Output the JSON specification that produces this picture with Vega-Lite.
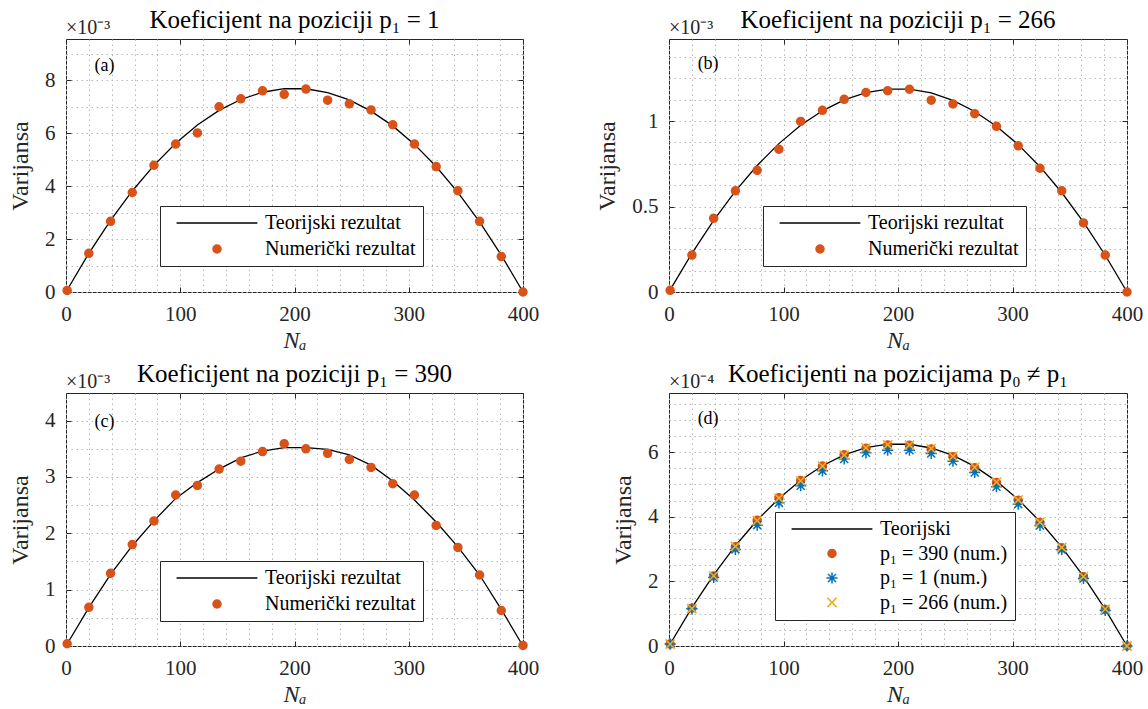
{
  "$schema": "https://vega.github.io/schema/vega-lite/v6.json",
  "padding": {"left": 8, "top": 7, "right": 0, "bottom": 0},
  "background": "white",
  "bounds": "flush",
  "columns": 2,
  "spacing": {"row": 101, "column": 146},
  "resolve": {
    "scale": {"stroke": "independent", "fill": "independent", "shape": "independent"},
    "legend": {"stroke": "independent", "fill": "independent", "shape": "independent"}
  },
  "datasets": {
    "a_t": [
      {"N":1,"v":0.077,"s":"Teorijski rezultat"},{"N":20,"v":1.463,"s":"Teorijski rezultat"},{"N":39,"v":2.71,"s":"Teorijski rezultat"},{"N":58,"v":3.818,"s":"Teorijski rezultat"},{"N":77,"v":4.787,"s":"Teorijski rezultat"},{"N":96,"v":5.618,"s":"Teorijski rezultat"},{"N":115,"v":6.309,"s":"Teorijski rezultat"},{"N":134,"v":6.861,"s":"Teorijski rezultat"},{"N":153,"v":7.274,"s":"Teorijski rezultat"},{"N":172,"v":7.548,"s":"Teorijski rezultat"},{"N":191,"v":7.683,"s":"Teorijski rezultat"},{"N":210,"v":7.68,"s":"Teorijski rezultat"},{"N":229,"v":7.538,"s":"Teorijski rezultat"},{"N":248,"v":7.257,"s":"Teorijski rezultat"},{"N":267,"v":6.836,"s":"Teorijski rezultat"},{"N":286,"v":6.277,"s":"Teorijski rezultat"},{"N":305,"v":5.578,"s":"Teorijski rezultat"},{"N":324,"v":4.74,"s":"Teorijski rezultat"},{"N":343,"v":3.763,"s":"Teorijski rezultat"},{"N":362,"v":2.647,"s":"Teorijski rezultat"},{"N":381,"v":1.393,"s":"Teorijski rezultat"},{"N":400,"v":0,"s":"Teorijski rezultat"}
    ],
    "a_n": [
      {"N":1,"v":0.06,"s":"Numerički rezultat"},{"N":20,"v":1.46,"s":"Numerički rezultat"},{"N":39,"v":2.67,"s":"Numerički rezultat"},{"N":58,"v":3.76,"s":"Numerički rezultat"},{"N":77,"v":4.79,"s":"Numerički rezultat"},{"N":96,"v":5.59,"s":"Numerički rezultat"},{"N":115,"v":6.01,"s":"Numerički rezultat"},{"N":134,"v":7.0,"s":"Numerički rezultat"},{"N":153,"v":7.3,"s":"Numerički rezultat"},{"N":172,"v":7.6,"s":"Numerički rezultat"},{"N":191,"v":7.47,"s":"Numerički rezultat"},{"N":210,"v":7.67,"s":"Numerički rezultat"},{"N":229,"v":7.25,"s":"Numerički rezultat"},{"N":248,"v":7.11,"s":"Numerički rezultat"},{"N":267,"v":6.88,"s":"Numerički rezultat"},{"N":286,"v":6.32,"s":"Numerički rezultat"},{"N":305,"v":5.59,"s":"Numerički rezultat"},{"N":324,"v":4.74,"s":"Numerički rezultat"},{"N":343,"v":3.83,"s":"Numerički rezultat"},{"N":362,"v":2.67,"s":"Numerički rezultat"},{"N":381,"v":1.34,"s":"Numerički rezultat"},{"N":400,"v":0.0,"s":"Numerički rezultat"}
    ],
    "b_t": [
      {"N":1,"v":0.012,"s":"Teorijski rezultat"},{"N":20,"v":0.226,"s":"Teorijski rezultat"},{"N":39,"v":0.419,"s":"Teorijski rezultat"},{"N":58,"v":0.59,"s":"Teorijski rezultat"},{"N":77,"v":0.74,"s":"Teorijski rezultat"},{"N":96,"v":0.868,"s":"Teorijski rezultat"},{"N":115,"v":0.975,"s":"Teorijski rezultat"},{"N":134,"v":1.06,"s":"Teorijski rezultat"},{"N":153,"v":1.124,"s":"Teorijski rezultat"},{"N":172,"v":1.166,"s":"Teorijski rezultat"},{"N":191,"v":1.187,"s":"Teorijski rezultat"},{"N":210,"v":1.187,"s":"Teorijski rezultat"},{"N":229,"v":1.165,"s":"Teorijski rezultat"},{"N":248,"v":1.121,"s":"Teorijski rezultat"},{"N":267,"v":1.056,"s":"Teorijski rezultat"},{"N":286,"v":0.97,"s":"Teorijski rezultat"},{"N":305,"v":0.862,"s":"Teorijski rezultat"},{"N":324,"v":0.733,"s":"Teorijski rezultat"},{"N":343,"v":0.582,"s":"Teorijski rezultat"},{"N":362,"v":0.409,"s":"Teorijski rezultat"},{"N":381,"v":0.215,"s":"Teorijski rezultat"},{"N":400,"v":0,"s":"Teorijski rezultat"}
    ],
    "b_n": [
      {"N":1,"v":0.01,"s":"Numerički rezultat"},{"N":20,"v":0.216,"s":"Numerički rezultat"},{"N":39,"v":0.431,"s":"Numerički rezultat"},{"N":58,"v":0.592,"s":"Numerički rezultat"},{"N":77,"v":0.712,"s":"Numerički rezultat"},{"N":96,"v":0.835,"s":"Numerički rezultat"},{"N":115,"v":0.998,"s":"Numerički rezultat"},{"N":134,"v":1.063,"s":"Numerički rezultat"},{"N":153,"v":1.127,"s":"Numerički rezultat"},{"N":172,"v":1.167,"s":"Numerički rezultat"},{"N":191,"v":1.178,"s":"Numerički rezultat"},{"N":210,"v":1.186,"s":"Numerički rezultat"},{"N":229,"v":1.122,"s":"Numerički rezultat"},{"N":248,"v":1.1,"s":"Numerički rezultat"},{"N":267,"v":1.043,"s":"Numerički rezultat"},{"N":286,"v":0.969,"s":"Numerički rezultat"},{"N":305,"v":0.855,"s":"Numerički rezultat"},{"N":324,"v":0.724,"s":"Numerički rezultat"},{"N":343,"v":0.592,"s":"Numerički rezultat"},{"N":362,"v":0.404,"s":"Numerički rezultat"},{"N":381,"v":0.216,"s":"Numerički rezultat"},{"N":400,"v":0,"s":"Numerički rezultat"}
    ],
    "c_t": [
      {"N":1,"v":0.035,"s":"Teorijski rezultat"},{"N":20,"v":0.68,"s":"Teorijski rezultat"},{"N":39,"v":1.27,"s":"Teorijski rezultat"},{"N":58,"v":1.78,"s":"Teorijski rezultat"},{"N":77,"v":2.22,"s":"Teorijski rezultat"},{"N":96,"v":2.62,"s":"Teorijski rezultat"},{"N":115,"v":2.9,"s":"Teorijski rezultat"},{"N":134,"v":3.14,"s":"Teorijski rezultat"},{"N":153,"v":3.34,"s":"Teorijski rezultat"},{"N":172,"v":3.46,"s":"Teorijski rezultat"},{"N":191,"v":3.52,"s":"Teorijski rezultat"},{"N":210,"v":3.52,"s":"Teorijski rezultat"},{"N":229,"v":3.49,"s":"Teorijski rezultat"},{"N":248,"v":3.39,"s":"Teorijski rezultat"},{"N":267,"v":3.21,"s":"Teorijski rezultat"},{"N":286,"v":2.93,"s":"Teorijski rezultat"},{"N":305,"v":2.59,"s":"Teorijski rezultat"},{"N":324,"v":2.2,"s":"Teorijski rezultat"},{"N":343,"v":1.76,"s":"Teorijski rezultat"},{"N":362,"v":1.26,"s":"Teorijski rezultat"},{"N":381,"v":0.65,"s":"Teorijski rezultat"},{"N":400,"v":0,"s":"Teorijski rezultat"}
    ],
    "c_n": [
      {"N":1,"v":0.04,"s":"Numerički rezultat"},{"N":20,"v":0.686,"s":"Numerički rezultat"},{"N":39,"v":1.29,"s":"Numerički rezultat"},{"N":58,"v":1.8,"s":"Numerički rezultat"},{"N":77,"v":2.22,"s":"Numerički rezultat"},{"N":96,"v":2.68,"s":"Numerički rezultat"},{"N":115,"v":2.85,"s":"Numerički rezultat"},{"N":134,"v":3.14,"s":"Numerički rezultat"},{"N":153,"v":3.28,"s":"Numerički rezultat"},{"N":172,"v":3.45,"s":"Numerički rezultat"},{"N":191,"v":3.59,"s":"Numerički rezultat"},{"N":210,"v":3.5,"s":"Numerički rezultat"},{"N":229,"v":3.42,"s":"Numerički rezultat"},{"N":248,"v":3.31,"s":"Numerički rezultat"},{"N":267,"v":3.17,"s":"Numerički rezultat"},{"N":286,"v":2.88,"s":"Numerički rezultat"},{"N":305,"v":2.68,"s":"Numerički rezultat"},{"N":324,"v":2.14,"s":"Numerički rezultat"},{"N":343,"v":1.75,"s":"Numerički rezultat"},{"N":362,"v":1.26,"s":"Numerički rezultat"},{"N":381,"v":0.63,"s":"Numerički rezultat"},{"N":400,"v":0.01,"s":"Numerički rezultat"}
    ],
    "d_t": [
      {"N":1,"v":0.062,"s":"Teorijski"},{"N":20,"v":1.19,"s":"Teorijski"},{"N":39,"v":2.203,"s":"Teorijski"},{"N":58,"v":3.104,"s":"Teorijski"},{"N":77,"v":3.892,"s":"Teorijski"},{"N":96,"v":4.567,"s":"Teorijski"},{"N":115,"v":5.13,"s":"Teorijski"},{"N":134,"v":5.578,"s":"Teorijski"},{"N":153,"v":5.914,"s":"Teorijski"},{"N":172,"v":6.137,"s":"Teorijski"},{"N":191,"v":6.247,"s":"Teorijski"},{"N":210,"v":6.244,"s":"Teorijski"},{"N":229,"v":6.128,"s":"Teorijski"},{"N":248,"v":5.899,"s":"Teorijski"},{"N":267,"v":5.558,"s":"Teorijski"},{"N":286,"v":5.103,"s":"Teorijski"},{"N":305,"v":4.535,"s":"Teorijski"},{"N":324,"v":3.854,"s":"Teorijski"},{"N":343,"v":3.059,"s":"Teorijski"},{"N":362,"v":2.152,"s":"Teorijski"},{"N":381,"v":1.133,"s":"Teorijski"},{"N":400,"v":0,"s":"Teorijski"}
    ],
    "d_n": [
      {"N":1,"v":0.06,"s":"p₁ = 390 (num.)"},{"N":20,"v":1.17,"s":"p₁ = 390 (num.)"},{"N":39,"v":2.17,"s":"p₁ = 390 (num.)"},{"N":58,"v":3.07,"s":"p₁ = 390 (num.)"},{"N":77,"v":3.89,"s":"p₁ = 390 (num.)"},{"N":96,"v":4.59,"s":"p₁ = 390 (num.)"},{"N":115,"v":5.12,"s":"p₁ = 390 (num.)"},{"N":134,"v":5.57,"s":"p₁ = 390 (num.)"},{"N":153,"v":5.92,"s":"p₁ = 390 (num.)"},{"N":172,"v":6.12,"s":"p₁ = 390 (num.)"},{"N":191,"v":6.22,"s":"p₁ = 390 (num.)"},{"N":210,"v":6.21,"s":"p₁ = 390 (num.)"},{"N":229,"v":6.1,"s":"p₁ = 390 (num.)"},{"N":248,"v":5.86,"s":"p₁ = 390 (num.)"},{"N":267,"v":5.52,"s":"p₁ = 390 (num.)"},{"N":286,"v":5.06,"s":"p₁ = 390 (num.)"},{"N":305,"v":4.51,"s":"p₁ = 390 (num.)"},{"N":324,"v":3.82,"s":"p₁ = 390 (num.)"},{"N":343,"v":3.04,"s":"p₁ = 390 (num.)"},{"N":362,"v":2.14,"s":"p₁ = 390 (num.)"},{"N":381,"v":1.13,"s":"p₁ = 390 (num.)"},{"N":400,"v":0,"s":"p₁ = 390 (num.)"},
      {"N":1,"v":0.06,"s":"p₁ = 1 (num.)"},{"N":20,"v":1.15,"s":"p₁ = 1 (num.)"},{"N":39,"v":2.12,"s":"p₁ = 1 (num.)"},{"N":58,"v":2.99,"s":"p₁ = 1 (num.)"},{"N":77,"v":3.74,"s":"p₁ = 1 (num.)"},{"N":96,"v":4.43,"s":"p₁ = 1 (num.)"},{"N":115,"v":4.96,"s":"p₁ = 1 (num.)"},{"N":134,"v":5.42,"s":"p₁ = 1 (num.)"},{"N":153,"v":5.79,"s":"p₁ = 1 (num.)"},{"N":172,"v":5.98,"s":"p₁ = 1 (num.)"},{"N":191,"v":6.06,"s":"p₁ = 1 (num.)"},{"N":210,"v":6.06,"s":"p₁ = 1 (num.)"},{"N":229,"v":5.96,"s":"p₁ = 1 (num.)"},{"N":248,"v":5.72,"s":"p₁ = 1 (num.)"},{"N":267,"v":5.37,"s":"p₁ = 1 (num.)"},{"N":286,"v":4.93,"s":"p₁ = 1 (num.)"},{"N":305,"v":4.39,"s":"p₁ = 1 (num.)"},{"N":324,"v":3.73,"s":"p₁ = 1 (num.)"},{"N":343,"v":2.98,"s":"p₁ = 1 (num.)"},{"N":362,"v":2.09,"s":"p₁ = 1 (num.)"},{"N":381,"v":1.1,"s":"p₁ = 1 (num.)"},{"N":400,"v":0,"s":"p₁ = 1 (num.)"},
      {"N":1,"v":0.06,"s":"p₁ = 266 (num.)"},{"N":20,"v":1.16,"s":"p₁ = 266 (num.)"},{"N":39,"v":2.17,"s":"p₁ = 266 (num.)"},{"N":58,"v":3.08,"s":"p₁ = 266 (num.)"},{"N":77,"v":3.88,"s":"p₁ = 266 (num.)"},{"N":96,"v":4.58,"s":"p₁ = 266 (num.)"},{"N":115,"v":5.11,"s":"p₁ = 266 (num.)"},{"N":134,"v":5.57,"s":"p₁ = 266 (num.)"},{"N":153,"v":5.91,"s":"p₁ = 266 (num.)"},{"N":172,"v":6.13,"s":"p₁ = 266 (num.)"},{"N":191,"v":6.23,"s":"p₁ = 266 (num.)"},{"N":210,"v":6.22,"s":"p₁ = 266 (num.)"},{"N":229,"v":6.11,"s":"p₁ = 266 (num.)"},{"N":248,"v":5.87,"s":"p₁ = 266 (num.)"},{"N":267,"v":5.53,"s":"p₁ = 266 (num.)"},{"N":286,"v":5.07,"s":"p₁ = 266 (num.)"},{"N":305,"v":4.52,"s":"p₁ = 266 (num.)"},{"N":324,"v":3.83,"s":"p₁ = 266 (num.)"},{"N":343,"v":3.05,"s":"p₁ = 266 (num.)"},{"N":362,"v":2.15,"s":"p₁ = 266 (num.)"},{"N":381,"v":1.14,"s":"p₁ = 266 (num.)"},{"N":400,"v":0,"s":"p₁ = 266 (num.)"}
    ]
  },
  "concat": [
    {
      "width": 457, "height": 253,
      "title": {"text": "Koeficijent na poziciji p₁ = 1"},
      "resolve": {"axis": {"x": "independent", "y": "independent"}},
      "layer": [
        {
          "data": {"name": "a_t"},
          "mark": {"type": "line", "strokeWidth": 1.3},
          "encoding": {
            "x": {"field": "N", "type": "quantitative", "scale": {"domain": [0, 400], "nice": false, "zero": false},
              "axis": {"orient": "bottom", "values": [0,20,40,60,80,100,120,140,160,180,200,220,240,260,280,300,320,340,360,380,400], "grid": true, "title": "Nₐ", "titleFontStyle": "italic",
                "labelExpr": "datum.value % 100 === 0 ? format(datum.value, 'd') : ''",
                "tickOpacity": {"condition": {"test": "datum.value % 100 === 0", "value": 1}, "value": 0}}},
            "y": {"field": "v", "type": "quantitative", "scale": {"domain": [0, 9.56], "nice": false},
              "axis": {"orient": "left", "values": [0,1,2,3,4,5,6,7,8,9], "grid": true, "title": "Varijansa",
                "labelExpr": "datum.value % 2 === 0 ? format(datum.value, '~g') : ''",
                "tickOpacity": {"condition": {"test": "datum.value % 2 === 0", "value": 1}, "value": 0}}},
            "stroke": {"field": "s", "type": "nominal", "scale": {"domain": ["Teorijski rezultat", "Numerički rezultat"], "range": ["#000000", "#D95319"]},
              "legend": {"orient": "none", "legendX": 94, "legendY": 167}}
          }
        },
        {
          "data": {"name": "a_n"},
          "mark": {"type": "point", "opacity": 1, "strokeWidth": 1.5, "size": 64},
          "encoding": {
            "x": {"field": "N", "type": "quantitative", "axis": {"orient": "top", "values": [0,100,200,300,400], "labels": false, "grid": false, "title": null, "labelPadding": 0, "minExtent": 0, "maxExtent": 0}},
            "y": {"field": "v", "type": "quantitative", "axis": {"orient": "right", "values": [0,2,4,6,8], "labels": false, "grid": false, "title": null, "labelPadding": 0, "minExtent": 0, "maxExtent": 0}},
            "stroke": {"field": "s", "type": "nominal", "legend": {"orient": "none", "legendX": 94, "legendY": 167}},
            "fill": {"field": "s", "type": "nominal", "scale": {"domain": ["Teorijski rezultat", "Numerički rezultat"], "range": ["transparent", "#D95319"]}, "legend": {"orient": "none", "legendX": 94, "legendY": 167}},
            "shape": {"field": "s", "type": "nominal", "scale": {"domain": ["Teorijski rezultat", "Numerički rezultat"], "range": ["M-10.1,0L10.1,0", "circle"]}, "legend": {"orient": "none", "legendX": 94, "legendY": 167}}
          }
        },
        {
          "data": {"values": [{}]},
          "mark": {"type": "text", "text": "×10⁻³", "align": "left", "baseline": "alphabetic", "dy": -5, "fontSize": 20, "color": "#262626"},
          "encoding": {"x": {"datum": 0, "type": "quantitative", "axis": null}, "y": {"datum": 9.56, "type": "quantitative", "axis": null}}
        },
        {
          "data": {"values": [{}]},
          "mark": {"type": "text", "text": "(a)", "align": "left", "baseline": "middle", "fontSize": 18, "color": "black"},
          "encoding": {"x": {"datum": 25, "type": "quantitative", "axis": null}, "y": {"datum": 8.54, "type": "quantitative", "axis": null}}
        }
      ]
    },
    {
      "width": 458, "height": 253,
      "title": {"text": "Koeficijent na poziciji p₁ = 266"},
      "resolve": {"axis": {"x": "independent", "y": "independent"}},
      "layer": [
        {
          "data": {"name": "b_t"},
          "mark": {"type": "line", "strokeWidth": 1.3},
          "encoding": {
            "x": {"field": "N", "type": "quantitative", "scale": {"domain": [0, 400], "nice": false, "zero": false},
              "axis": {"orient": "bottom", "values": [0,20,40,60,80,100,120,140,160,180,200,220,240,260,280,300,320,340,360,380,400], "grid": true, "title": "Nₐ", "titleFontStyle": "italic",
                "labelExpr": "datum.value % 100 === 0 ? format(datum.value, 'd') : ''",
                "tickOpacity": {"condition": {"test": "datum.value % 100 === 0", "value": 1}, "value": 0}}},
            "y": {"field": "v", "type": "quantitative", "scale": {"domain": [0, 1.48], "nice": false},
              "axis": {"orient": "left", "values": [0,0.125,0.25,0.375,0.5,0.625,0.75,0.875,1,1.125,1.25,1.375], "grid": true, "title": "Varijansa",
                "labelExpr": "datum.value % 0.5 === 0 ? format(datum.value, '~g') : ''",
                "tickOpacity": {"condition": {"test": "datum.value % 0.5 === 0", "value": 1}, "value": 0}}},
            "stroke": {"field": "s", "type": "nominal", "scale": {"domain": ["Teorijski rezultat", "Numerički rezultat"], "range": ["#000000", "#D95319"]},
              "legend": {"orient": "none", "legendX": 94, "legendY": 167}}
          }
        },
        {
          "data": {"name": "b_n"},
          "mark": {"type": "point", "opacity": 1, "strokeWidth": 1.5, "size": 64},
          "encoding": {
            "x": {"field": "N", "type": "quantitative", "axis": {"orient": "top", "values": [0,100,200,300,400], "labels": false, "grid": false, "title": null, "labelPadding": 0, "minExtent": 0, "maxExtent": 0}},
            "y": {"field": "v", "type": "quantitative", "axis": {"orient": "right", "values": [0,0.5,1], "labels": false, "grid": false, "title": null, "labelPadding": 0, "minExtent": 0, "maxExtent": 0}},
            "stroke": {"field": "s", "type": "nominal", "legend": {"orient": "none", "legendX": 94, "legendY": 167}},
            "fill": {"field": "s", "type": "nominal", "scale": {"domain": ["Teorijski rezultat", "Numerički rezultat"], "range": ["transparent", "#D95319"]}, "legend": {"orient": "none", "legendX": 94, "legendY": 167}},
            "shape": {"field": "s", "type": "nominal", "scale": {"domain": ["Teorijski rezultat", "Numerički rezultat"], "range": ["M-10.1,0L10.1,0", "circle"]}, "legend": {"orient": "none", "legendX": 94, "legendY": 167}}
          }
        },
        {
          "data": {"values": [{}]},
          "mark": {"type": "text", "text": "×10⁻³", "align": "left", "baseline": "alphabetic", "dy": -5, "fontSize": 20, "color": "#262626"},
          "encoding": {"x": {"datum": 0, "type": "quantitative", "axis": null}, "y": {"datum": 1.48, "type": "quantitative", "axis": null}}
        },
        {
          "data": {"values": [{}]},
          "mark": {"type": "text", "text": "(b)", "align": "left", "baseline": "middle", "fontSize": 18, "color": "black"},
          "encoding": {"x": {"datum": 25, "type": "quantitative", "axis": null}, "y": {"datum": 1.334, "type": "quantitative", "axis": null}}
        }
      ]
    },
    {
      "width": 457, "height": 253,
      "title": {"text": "Koeficijent na poziciji p₁ = 390"},
      "resolve": {"axis": {"x": "independent", "y": "independent"}},
      "layer": [
        {
          "data": {"name": "c_t"},
          "mark": {"type": "line", "strokeWidth": 1.3},
          "encoding": {
            "x": {"field": "N", "type": "quantitative", "scale": {"domain": [0, 400], "nice": false, "zero": false},
              "axis": {"orient": "bottom", "values": [0,20,40,60,80,100,120,140,160,180,200,220,240,260,280,300,320,340,360,380,400], "grid": true, "title": "Nₐ", "titleFontStyle": "italic",
                "labelExpr": "datum.value % 100 === 0 ? format(datum.value, 'd') : ''",
                "tickOpacity": {"condition": {"test": "datum.value % 100 === 0", "value": 1}, "value": 0}}},
            "y": {"field": "v", "type": "quantitative", "scale": {"domain": [0, 4.49], "nice": false},
              "axis": {"orient": "left", "values": [0,0.5,1,1.5,2,2.5,3,3.5,4], "grid": true, "title": "Varijansa",
                "labelExpr": "datum.value % 1 === 0 ? format(datum.value, '~g') : ''",
                "tickOpacity": {"condition": {"test": "datum.value % 1 === 0", "value": 1}, "value": 0}}},
            "stroke": {"field": "s", "type": "nominal", "scale": {"domain": ["Teorijski rezultat", "Numerički rezultat"], "range": ["#000000", "#D95319"]},
              "legend": {"orient": "none", "legendX": 94, "legendY": 168}}
          }
        },
        {
          "data": {"name": "c_n"},
          "mark": {"type": "point", "opacity": 1, "strokeWidth": 1.5, "size": 64},
          "encoding": {
            "x": {"field": "N", "type": "quantitative", "axis": {"orient": "top", "values": [0,100,200,300,400], "labels": false, "grid": false, "title": null, "labelPadding": 0, "minExtent": 0, "maxExtent": 0}},
            "y": {"field": "v", "type": "quantitative", "axis": {"orient": "right", "values": [0,1,2,3,4], "labels": false, "grid": false, "title": null, "labelPadding": 0, "minExtent": 0, "maxExtent": 0}},
            "stroke": {"field": "s", "type": "nominal", "legend": {"orient": "none", "legendX": 94, "legendY": 168}},
            "fill": {"field": "s", "type": "nominal", "scale": {"domain": ["Teorijski rezultat", "Numerički rezultat"], "range": ["transparent", "#D95319"]}, "legend": {"orient": "none", "legendX": 94, "legendY": 168}},
            "shape": {"field": "s", "type": "nominal", "scale": {"domain": ["Teorijski rezultat", "Numerički rezultat"], "range": ["M-10.1,0L10.1,0", "circle"]}, "legend": {"orient": "none", "legendX": 94, "legendY": 168}}
          }
        },
        {
          "data": {"values": [{}]},
          "mark": {"type": "text", "text": "×10⁻³", "align": "left", "baseline": "alphabetic", "dy": -5, "fontSize": 20, "color": "#262626"},
          "encoding": {"x": {"datum": 0, "type": "quantitative", "axis": null}, "y": {"datum": 4.49, "type": "quantitative", "axis": null}}
        },
        {
          "data": {"values": [{}]},
          "mark": {"type": "text", "text": "(c)", "align": "left", "baseline": "middle", "fontSize": 18, "color": "black"},
          "encoding": {"x": {"datum": 25, "type": "quantitative", "axis": null}, "y": {"datum": 3.974, "type": "quantitative", "axis": null}}
        }
      ]
    },
    {
      "width": 458, "height": 253,
      "title": {"text": "Koeficijenti na pozicijama p₀ ≠ p₁"},
      "resolve": {"axis": {"x": "independent", "y": "independent"}},
      "layer": [
        {
          "data": {"name": "d_t"},
          "mark": {"type": "line", "strokeWidth": 1.3},
          "encoding": {
            "x": {"field": "N", "type": "quantitative", "scale": {"domain": [0, 400], "nice": false, "zero": false},
              "axis": {"orient": "bottom", "values": [0,20,40,60,80,100,120,140,160,180,200,220,240,260,280,300,320,340,360,380,400], "grid": true, "title": "Nₐ", "titleFontStyle": "italic",
                "labelExpr": "datum.value % 100 === 0 ? format(datum.value, 'd') : ''",
                "tickOpacity": {"condition": {"test": "datum.value % 100 === 0", "value": 1}, "value": 0}}},
            "y": {"field": "v", "type": "quantitative", "scale": {"domain": [0, 7.83], "nice": false},
              "axis": {"orient": "left", "values": [0,0.5,1,1.5,2,2.5,3,3.5,4,4.5,5,5.5,6,6.5,7,7.5], "grid": true, "title": "Varijansa",
                "labelExpr": "datum.value % 2 === 0 ? format(datum.value, '~g') : ''",
                "tickOpacity": {"condition": {"test": "datum.value % 2 === 0", "value": 1}, "value": 0}}},
            "stroke": {"field": "s", "type": "nominal", "scale": {"domain": ["Teorijski", "p₁ = 390 (num.)", "p₁ = 1 (num.)", "p₁ = 266 (num.)"], "range": ["#000000", "#D95319", "#0072BD", "#EDB120"]},
              "legend": {"orient": "none", "legendX": 106, "legendY": 119, "rowPadding": 4.5}}
          }
        },
        {
          "data": {"name": "d_n"},
          "mark": {"type": "point", "opacity": 1, "strokeWidth": 1.5, "size": 64},
          "encoding": {
            "x": {"field": "N", "type": "quantitative", "axis": {"orient": "top", "values": [0,100,200,300,400], "labels": false, "grid": false, "title": null, "labelPadding": 0, "minExtent": 0, "maxExtent": 0}},
            "y": {"field": "v", "type": "quantitative", "axis": {"orient": "right", "values": [0,2,4,6], "labels": false, "grid": false, "title": null, "labelPadding": 0, "minExtent": 0, "maxExtent": 0}},
            "stroke": {"field": "s", "type": "nominal", "legend": {"orient": "none", "legendX": 106, "legendY": 119, "rowPadding": 4.5}},
            "fill": {"field": "s", "type": "nominal", "scale": {"domain": ["Teorijski", "p₁ = 390 (num.)", "p₁ = 1 (num.)", "p₁ = 266 (num.)"], "range": ["transparent", "#D95319", "transparent", "transparent"]}, "legend": {"orient": "none", "legendX": 106, "legendY": 119, "rowPadding": 4.5}},
            "shape": {"field": "s", "type": "nominal", "scale": {"domain": ["Teorijski", "p₁ = 390 (num.)", "p₁ = 1 (num.)", "p₁ = 266 (num.)"], "range": ["M-10.1,0L10.1,0", "circle", "M-1.4,0L1.4,0M0,-1.4L0,1.4M-1,-1L1,1M-1,1L1,-1", "M-1.15,-1.15L1.15,1.15M-1.15,1.15L1.15,-1.15"]}, "legend": {"orient": "none", "legendX": 106, "legendY": 119, "rowPadding": 4.5}}
          }
        },
        {
          "data": {"values": [{}]},
          "mark": {"type": "text", "text": "×10⁻⁴", "align": "left", "baseline": "alphabetic", "dy": -5, "fontSize": 20, "color": "#262626"},
          "encoding": {"x": {"datum": 0, "type": "quantitative", "axis": null}, "y": {"datum": 7.83, "type": "quantitative", "axis": null}}
        },
        {
          "data": {"values": [{}]},
          "mark": {"type": "text", "text": "(d)", "align": "left", "baseline": "middle", "fontSize": 18, "color": "black"},
          "encoding": {"x": {"datum": 25, "type": "quantitative", "axis": null}, "y": {"datum": 7.024, "type": "quantitative", "axis": null}}
        }
      ]
    }
  ],
  "config": {
    "view": {"stroke": "#262626", "strokeWidth": 1},
    "font": "Liberation Serif",
    "text": {"font": "Liberation Serif"},
    "style": {"guide-label": {"font": "Liberation Serif"}, "guide-title": {"font": "Liberation Serif"}, "group-title": {"font": "Liberation Serif"}},
    "axis": {
      "domain": false,
      "labelFont": "Liberation Serif", "labelFontSize": 21, "labelColor": "#262626", "labelPadding": 16,
      "titleFont": "Liberation Serif", "titleFontSize": 24, "titleFontWeight": "normal", "titleColor": "#262626",
      "tickColor": "#262626", "tickSize": -5, "tickWidth": 1,
      "gridColor": "#b8b8b8", "gridDash": [1.5, 3.5], "gridWidth": 1, "gridOpacity": 1,
      "labelOverlap": false, "labelFlush": false, "labelBound": false
    },
    "axisX": {"titlePadding": 4},
    "axisY": {"titlePadding": 12},
    "title": {"font": "Liberation Serif", "fontSize": 25, "fontWeight": "normal", "color": "black", "anchor": "middle", "frame": "group", "offset": -15},
    "legend": {
      "title": null, "padding": 7, "symbolOffset": 40, "labelOffset": 38, "rowPadding": 6,
      "strokeColor": "#262626", "fillColor": "white", "symbolSize": 64, "symbolStrokeWidth": 1.5,
      "labelFont": "Liberation Serif", "labelFontSize": 20, "labelColor": "black", "labelLimit": 0, "cornerRadius": 0
    }
  }
}
